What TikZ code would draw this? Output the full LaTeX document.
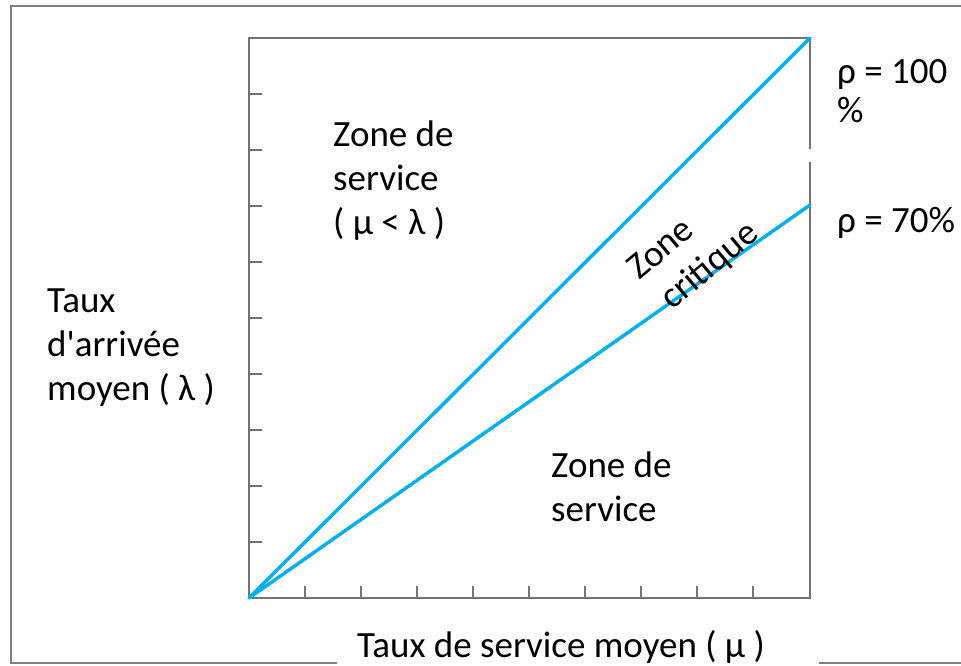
\documentclass[tikz,border=0pt]{standalone}
\usepackage{fontspec}
\setmainfont{Carlito}[Ligatures=TeXOff]
\begin{document}
\begin{tikzpicture}[x=1pt,y=-1pt,
  frame/.style={draw=black!50, line width=2.4pt},
  axis/.style={draw=black!55, line width=2pt},
  tick/.style={draw=black!55, line width=1.8pt},
  rate/.style={line width=3.4pt, color={rgb,255:red,0;green,176;blue,240}},
  lbl/.style={font=\fontsize{37}{44}\selectfont, inner sep=0pt, align=left, anchor=base west}
]
\useasboundingbox (0,0) rectangle (961,665);

% outer frame, open on the right and cut by the axis title
\draw[frame] (961,6) -- (11,6) -- (11,663) -- (337,663);
\draw[frame] (819,663) -- (961,663);

% plot area corners
\coordinate (O) at (249,598);
\coordinate (TL) at (249,38);
\coordinate (TR) at (810,38);
\coordinate (BR) at (810,598);
\coordinate (R70) at (810,205);

% plot frame with a small break on the right side
\draw[axis] (810,162) -- (BR) -- (O) -- (TL) -- (TR) -- (810,149);

% ticks
\foreach \k in {1,...,9} {
  \draw[tick] (249,38+56*\k) -- ++(13,0);
  \draw[tick] (249+56*\k,598) -- ++(0,-12);
}

% utilisation lines
\draw[rate, line cap=round] (O) -- (TR);
\draw[rate, line cap=round] (O) -- (R70);

% labels (multi-line nodes sit on the baseline of their last line)
\node[lbl] (zsup) at (333,234) {Zone de\\service\\( μ < λ )};
\node[lbl] (ylab) at (47,400) {Taux\\d'arrivée\\moyen ( λ )};
\node[lbl] (zinf) at (551,521) {Zone de\\service};
\node[lbl, font=\fontsize{37}{39}\selectfont] (r100) at (837,122) {ρ = 100\\\%};
\node[lbl] (r70) at (837,232) {ρ = 70\%};
\node[font=\fontsize{37}{44}\selectfont, inner sep=0pt, anchor=base] (xlab) at (561,657) {Taux de service moyen ( μ )};
\node[lbl, rotate=40] (zc1) at (639,281) {Zone};
\node[lbl, rotate=40] (zc2) at (672,311) {critique};
\end{tikzpicture}
\end{document}
